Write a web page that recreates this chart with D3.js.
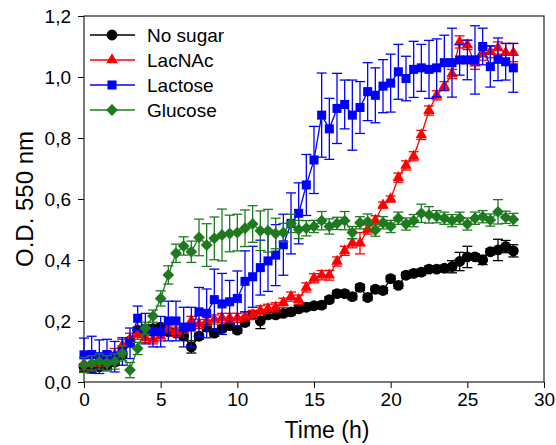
<!DOCTYPE html>
<html>
<head>
<meta charset="utf-8">
<script src="https://cdn.jsdelivr.net/npm/d3@7"></script>
<style>
  html, body { margin: 0; padding: 0; background: #fff; }
  svg { display: block; font-family: Arial, "Liberation Sans", sans-serif; }
</style>
</head>
<body>
<svg id="chart" width="556" height="445"></svg>
<script>
// Sampling times (h)
const times = [0,0.5,1,1.5,2,2.5,3,3.5,4,4.5,5,5.5,6,6.5,7,7.5,8,8.5,9,9.5,10,10.5,11,11.5,12,12.5,13,13.5,14,14.5,15,15.5,16,16.5,17,17.5,18,18.5,19,19.5,20,20.5,21,21.5,22,22.5,23,23.5,24,24.5,25,25.5,26,26.5,27,27.5,28];

// O.D. 550 nm, mean values per condition
const noSugar = [0.05,0.045,0.05,0.055,0.065,0.09,0.135,0.17,0.17,0.175,0.18,0.165,0.16,0.15,0.115,0.15,0.18,0.16,0.175,0.185,0.17,0.195,0.22,0.2,0.22,0.22,0.225,0.23,0.24,0.245,0.25,0.252,0.27,0.29,0.29,0.28,0.31,0.277,0.304,0.30,0.339,0.317,0.35,0.356,0.36,0.37,0.37,0.373,0.378,0.395,0.41,0.41,0.40,0.427,0.433,0.444,0.43];
const lacNAc = [0.06,0.06,0.07,0.08,0.09,0.12,0.14,0.155,0.145,0.14,0.15,0.175,0.165,0.175,0.2,0.19,0.2,0.205,0.21,0.21,0.21,0.215,0.22,0.235,0.24,0.245,0.26,0.28,0.27,0.31,0.34,0.35,0.35,0.395,0.43,0.455,0.455,0.5,0.53,0.58,0.6,0.67,0.71,0.74,0.81,0.89,0.94,0.97,1.01,1.115,1.105,1.045,1.075,1.083,1.095,1.08,1.08];
const lactose = [0.089,0.09,0.083,0.09,0.083,0.1,0.127,0.209,0.175,0.165,0.165,0.2,0.2,0.18,0.18,0.23,0.225,0.27,0.256,0.263,0.274,0.33,0.345,0.375,0.397,0.416,0.45,0.52,0.553,0.646,0.728,0.875,0.83,0.897,0.91,0.875,0.9,0.952,0.94,0.97,0.98,1.017,0.995,1.025,1.03,1.025,1.03,1.047,1.047,1.056,1.056,1.056,1.1,1.034,1.058,1.05,1.03];
const glucose = [0.056,0.061,0.067,0.061,0.067,0.094,0.039,0.11,0.176,0.216,0.274,0.351,0.422,0.446,0.427,0.474,0.449,0.471,0.482,0.487,0.49,0.504,0.518,0.496,0.496,0.487,0.49,0.52,0.5,0.504,0.51,0.529,0.51,0.52,0.529,0.49,0.522,0.526,0.498,0.522,0.51,0.537,0.518,0.529,0.553,0.548,0.542,0.537,0.529,0.537,0.518,0.537,0.542,0.531,0.558,0.54,0.533];

// Standard deviations
const noSugarErr = [0.01,0.015,0.01,0.01,0.01,0.01,0.01,0.01,0.01,0.01,0.01,0.01,0.01,0.01,0.02,0.01,0.01,0.01,0.01,0.01,0.01,0.01,0.01,0.025,0.01,0.01,0.01,0.01,0.01,0.01,0.01,0.01,0.01,0.01,0.01,0.01,0.01,0.01,0.01,0.01,0.01,0.01,0.01,0.01,0.01,0.01,0.01,0.01,0.02,0.03,0.035,0.01,0.015,0.01,0.035,0.02,0.02];
const lacNAcErr = [0.02,0.02,0.02,0.02,0.02,0.02,0.02,0.015,0.015,0.015,0.015,0.015,0.015,0.015,0.015,0.015,0.015,0.015,0.015,0.015,0.015,0.015,0.015,0.015,0.015,0.015,0.015,0.015,0.015,0.015,0.015,0.015,0.016,0.015,0.015,0.015,0.035,0.015,0.015,0.01,0.01,0.015,0.015,0.015,0.015,0.015,0.015,0.015,0.015,0.02,0.015,0.02,0.02,0.02,0.02,0.03,0.03];
const lactoseErr = [0.055,0.06,0.055,0.05,0.05,0.045,0.05,0.04,0.05,0.05,0.05,0.065,0.065,0.065,0.065,0.08,0.08,0.1,0.1,0.07,0.09,0.1,0.1,0.09,0.1,0.1,0.1,0.1,0.1,0.1,0.11,0.138,0.1,0.115,0.08,0.115,0.085,0.095,0.09,0.087,0.095,0.09,0.073,0.092,0.077,0.095,0.095,0.09,0.113,0.05,0.065,0.112,0.06,0.067,0.07,0.06,0.08];
const glucoseErr = [0.025,0.025,0.025,0.025,0.025,0.025,0.025,0.02,0.02,0.02,0.025,0.03,0.03,0.03,0.035,0.06,0.07,0.07,0.085,0.06,0.06,0.06,0.06,0.065,0.07,0.05,0.03,0.03,0.03,0.025,0.02,0.03,0.025,0.02,0.03,0.02,0.02,0.025,0.02,0.02,0.02,0.02,0.02,0.02,0.03,0.027,0.02,0.02,0.02,0.02,0.02,0.02,0.02,0.02,0.04,0.02,0.02];

// Axis ticks
const xTicks = [0,5,10,15,20,25,30];
const yTicks = [0,0.2,0.4,0.6,0.8,1.0,1.2];

const seriesNames = ["No sugar","LacNAc","Lactose","Glucose"];
const seriesColors = ["#000000","#ff0000","#0000ff","#1f7a1f"];

// Rotated-square marker
const symbolDiamond45 = {
  draw(ctx, size) {
    const r = Math.sqrt(size / 2);
    ctx.moveTo(0, -r); ctx.lineTo(r, 0); ctx.lineTo(0, r); ctx.lineTo(-r, 0); ctx.closePath();
  }
};

const series = [
  { name: seriesNames[0], color: seriesColors[0], values: noSugar, err: noSugarErr, type: d3.symbolCircle, size: 92 },
  { name: seriesNames[1], color: seriesColors[1], values: lacNAc, err: lacNAcErr, type: d3.symbolTriangle, size: 58 },
  { name: seriesNames[2], color: seriesColors[2], values: lactose, err: lactoseErr, type: d3.symbolSquare, size: 82 },
  { name: seriesNames[3], color: seriesColors[3], values: glucose, err: glucoseErr, type: symbolDiamond45, size: 70 }
];

const plot = { left: 84, right: 544, top: 16, bottom: 382 };
const x = d3.scaleLinear().domain([0, 30]).range([plot.left, plot.right]);
const y = d3.scaleLinear().domain([0, 1.2]).range([plot.bottom, plot.top]);

const svg = d3.select("#chart");
const fmt = v => d3.format(".1f")(v).replace(".", ",");

// Axes
const xAxis = d3.axisBottom(x).tickValues(xTicks).tickSize(6).tickPadding(5).tickFormat(d3.format("d"));
const yAxis = d3.axisLeft(y).tickValues(yTicks).tickSize(6).tickPadding(7).tickFormat(fmt);

const gx = svg.append("g").attr("transform", `translate(0,${plot.bottom})`).call(xAxis);
const gy = svg.append("g").attr("transform", `translate(${plot.left},0)`).call(yAxis);
[gx, gy].forEach(g => {
  g.select(".domain").remove();
  g.selectAll(".tick line").attr("stroke", "#000").attr("stroke-width", 1);
  g.selectAll(".tick text").attr("fill", "#000").style("font-size", "19px").style("font-family", "Arial, 'Liberation Sans', sans-serif");
});

// Frame
svg.append("rect")
  .attr("x", plot.left).attr("y", plot.top)
  .attr("width", plot.right - plot.left).attr("height", plot.bottom - plot.top)
  .attr("fill", "none").attr("stroke", "#222").attr("stroke-width", 1.2);

// Axis titles
svg.append("text")
  .attr("x", (plot.left + plot.right) / 2 + 13).attr("y", 438)
  .attr("text-anchor", "middle").style("font-size", "23px").text("Time (h)");
svg.append("text")
  .attr("transform", `translate(33,${(plot.top + plot.bottom) / 2}) rotate(-90)`)
  .attr("text-anchor", "middle").style("font-size", "24px").text("O.D. 550 nm");

// Data series
const line = d3.line().x(d => x(d.t)).y(d => y(d.v));
const capHalf = 5;

series.forEach(s => {
  const pts = times.map((t, i) => ({ t, v: s.values[i], e: s.err[i] }));
  const g = svg.append("g");

  g.append("path").datum(pts).attr("d", line)
    .attr("fill", "none").attr("stroke", s.color).attr("stroke-width", 1.3);

  const eb = g.append("g").attr("stroke", s.color).attr("stroke-width", 1.3).attr("fill", "none");
  pts.forEach(p => {
    const cx = x(p.t), y1 = y(p.v + p.e), y0 = y(p.v - p.e);
    eb.append("line").attr("x1", cx).attr("x2", cx).attr("y1", y1).attr("y2", y0);
    eb.append("line").attr("x1", cx - capHalf).attr("x2", cx + capHalf).attr("y1", y1).attr("y2", y1);
    eb.append("line").attr("x1", cx - capHalf).attr("x2", cx + capHalf).attr("y1", y0).attr("y2", y0);
  });

  g.selectAll(".mk").data(pts).join("path")
    .attr("transform", d => `translate(${x(d.t)},${y(d.v)})`)
    .attr("d", d3.symbol().type(s.type).size(s.size))
    .attr("fill", s.color).attr("stroke", "none");
});

// Legend
const legend = svg.append("g");
series.forEach((s, i) => {
  const ly = 35 + i * 25;
  legend.append("line").attr("x1", 90).attr("x2", 135).attr("y1", ly).attr("y2", ly)
    .attr("stroke", s.color).attr("stroke-width", 1.3);
  legend.append("path").attr("transform", `translate(112,${ly})`)
    .attr("d", d3.symbol().type(s.type).size(s.size)).attr("fill", s.color);
  legend.append("text").attr("x", 147).attr("y", ly).attr("dy", "0.35em")
    .style("font-size", "19px").text(s.name);
});
</script>
</body>
</html>
